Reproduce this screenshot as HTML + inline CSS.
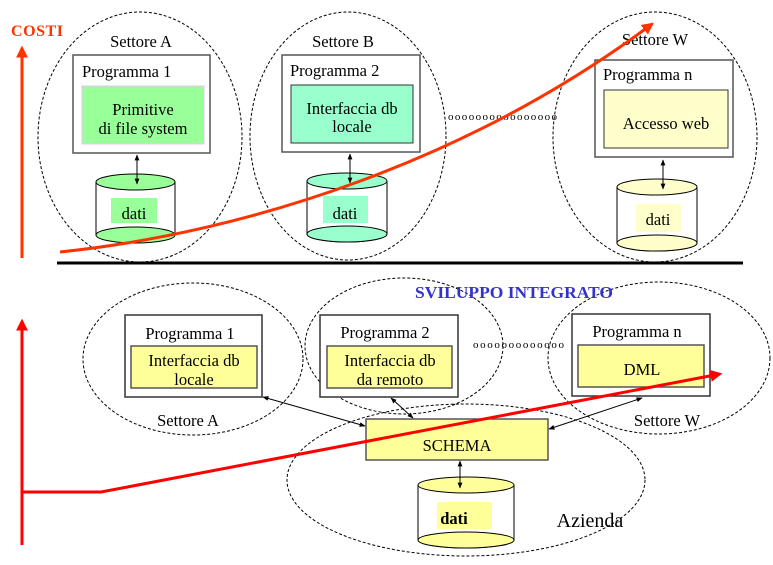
<!DOCTYPE html>
<html><head><meta charset="utf-8"><style>
body{margin:0;background:#fff}
svg{display:block}
text{font-family:"Liberation Serif",serif;font-size:16.5px;fill:#000}
</style></head><body>
<svg width="773" height="565" viewBox="0 0 773 565" xmlns="http://www.w3.org/2000/svg">
<defs>
<marker id="ah" viewBox="0 0 10 10" refX="9" refY="5" markerWidth="6" markerHeight="6" orient="auto-start-reverse"><path d="M0,1 L10,5 L0,9 z" fill="#000"/></marker>
<marker id="rh" viewBox="0 0 10 10" refX="8" refY="5" markerWidth="4" markerHeight="4" orient="auto"><path d="M0,0 L10,5 L0,10 z" fill="#ff3300"/></marker>
<marker id="rh2" viewBox="0 0 10 10" refX="8" refY="5" markerWidth="4" markerHeight="4" orient="auto"><path d="M0,0 L10,5 L0,10 z" fill="#ff0000"/></marker>
</defs>
<g fill="none" stroke="#000" stroke-width="1" stroke-dasharray="3,2">
<ellipse cx="140" cy="137" rx="102" ry="125"/>
<ellipse cx="348" cy="136" rx="98" ry="124"/>
<ellipse cx="655" cy="137" rx="102" ry="125"/>
<ellipse cx="193" cy="359" rx="110" ry="76"/>
<ellipse cx="404" cy="346" rx="99" ry="68"/>
<ellipse cx="659" cy="358" rx="111" ry="76"/>
<ellipse cx="466" cy="480" rx="179" ry="76"/>
</g>
<!-- top -->
<text x="11" y="36" textLength="52" style="font-weight:bold;fill:#ff3300;font-size:16px">COSTI</text>
<line x1="22" y1="258" x2="22" y2="48" stroke="#ff3300" stroke-width="3" marker-end="url(#rh)"/>
<text x="141" y="47" text-anchor="middle">Settore A</text>
<rect x="73" y="55" width="137" height="98" fill="#fff" stroke="#555" stroke-width="1.5"/>
<text x="82" y="77">Programma 1</text>
<rect x="82" y="86" width="122" height="58" fill="#99ff99" stroke="#f0c0f0"/>
<text x="143" y="115" text-anchor="middle">Primitive</text>
<text x="143" y="134" text-anchor="middle">di file system</text>
<path d="M96,182 V235 A40,8 0 0 0 175,235 V182" fill="#fff" stroke="#000"/>
<ellipse cx="135.5" cy="235" rx="39.5" ry="8" fill="#99ff99" stroke="#000"/>
<ellipse cx="135.5" cy="182" rx="39.5" ry="8" fill="#99ff99" stroke="#000"/>
<rect x="111" y="198" width="46" height="25" fill="#99ff99"/>
<text x="134" y="219" text-anchor="middle">dati</text>
<line x1="137" y1="155" x2="137" y2="184" stroke="#000" marker-start="url(#ah)" marker-end="url(#ah)"/>

<text x="343" y="47" text-anchor="middle">Settore B</text>
<rect x="282" y="55" width="138" height="97" fill="#fff" stroke="#555" stroke-width="1.5"/>
<text x="290" y="76">Programma 2</text>
<rect x="291" y="85" width="122" height="58" fill="#99ffcc" stroke="#333"/>
<text x="352" y="114" text-anchor="middle">Interfaccia db</text>
<text x="352" y="132" text-anchor="middle">locale</text>
<path d="M307,181 V234 A40,8 0 0 0 387,234 V181" fill="#fff" stroke="#000"/>
<ellipse cx="347" cy="234" rx="40" ry="8" fill="#99ffcc" stroke="#000"/>
<ellipse cx="347" cy="181" rx="40" ry="8" fill="#99ffcc" stroke="#000"/>
<rect x="323" y="196" width="45" height="27" fill="#99ffcc"/>
<text x="345" y="219" text-anchor="middle">dati</text>
<line x1="350" y1="154" x2="350" y2="183" stroke="#000" marker-start="url(#ah)" marker-end="url(#ah)"/>

<text x="448" y="120" textLength="109" lengthAdjust="spacing" style="font-size:11px">oooooooooooooooo</text>

<text x="655" y="45" text-anchor="middle">Settore W</text>
<rect x="595" y="60" width="138" height="97" fill="#fff" stroke="#555" stroke-width="1.5"/>
<text x="603" y="80">Programma n</text>
<rect x="604" y="90" width="124" height="58" fill="#ffffcc" stroke="#333"/>
<text x="666" y="129" text-anchor="middle">Accesso web</text>
<path d="M617,187 V243 A40,8 0 0 0 697,243 V187" fill="#fff" stroke="#000"/>
<ellipse cx="657" cy="243" rx="40" ry="8" fill="#ffffcc" stroke="#000"/>
<ellipse cx="657" cy="187" rx="40" ry="8" fill="#ffffcc" stroke="#000"/>
<rect x="636" y="204" width="45" height="28" fill="#ffffcc"/>
<text x="658" y="225" text-anchor="middle">dati</text>
<line x1="663" y1="160" x2="663" y2="189" stroke="#000" marker-start="url(#ah)" marker-end="url(#ah)"/>

<line x1="57" y1="263" x2="743" y2="263" stroke="#000" stroke-width="3"/>
<path d="M60,252 C250,232 470,160 652,24" fill="none" stroke="#ff3300" stroke-width="3" marker-end="url(#rh)"/>

<!-- bottom -->
<text x="415" y="298" textLength="198" lengthAdjust="spacingAndGlyphs" style="font-weight:bold;fill:#3333cc;font-size:17px">SVILUPPO INTEGRATO</text>
<line x1="22" y1="545" x2="22" y2="321" stroke="#ff0000" stroke-width="3" marker-end="url(#rh2)"/>

<rect x="125" y="315" width="137" height="82" fill="#fff" stroke="#333" stroke-width="1.5"/>
<text x="190" y="339" text-anchor="middle">Programma 1</text>
<rect x="131" y="346" width="126" height="42" fill="#ffff99" stroke="#555" stroke-width="1.5"/>
<text x="194" y="366" text-anchor="middle">Interfaccia db</text>
<text x="194" y="385" text-anchor="middle">locale</text>
<text x="188" y="426" text-anchor="middle">Settore A</text>

<rect x="320" y="315" width="138" height="82" fill="#fff" stroke="#333" stroke-width="1.5"/>
<text x="385" y="338" text-anchor="middle">Programma 2</text>
<rect x="327" y="346" width="125" height="42" fill="#ffff99" stroke="#555" stroke-width="1.5"/>
<text x="390" y="366" text-anchor="middle">Interfaccia db</text>
<text x="390" y="385" text-anchor="middle">da remoto</text>

<text x="473" y="348" textLength="91" lengthAdjust="spacing" style="font-size:11px">ooooooooooooo</text>

<rect x="572" y="314" width="138" height="82" fill="#fff" stroke="#333" stroke-width="1.5"/>
<text x="637" y="337" text-anchor="middle">Programma n</text>
<rect x="578" y="345" width="126" height="42" fill="#ffff99" stroke="#555" stroke-width="1.5"/>
<text x="642" y="375" text-anchor="middle">DML</text>
<text x="667" y="426" text-anchor="middle">Settore W</text>

<rect x="366" y="419" width="182" height="41" fill="#ffff99" stroke="#555" stroke-width="1.5"/>
<text x="457" y="451" text-anchor="middle">SCHEMA</text>

<path d="M418,485 V540 A48,8 0 0 0 514,540 V485" fill="#fff" stroke="#000"/>
<ellipse cx="466" cy="540" rx="48" ry="8" fill="#ffff99" stroke="#000"/>
<ellipse cx="466" cy="485" rx="48" ry="8" fill="#ffff99" stroke="#000"/>
<rect x="437" y="502" width="55" height="27" fill="#ffff99"/>
<text x="454" y="524" text-anchor="middle" style="font-weight:bold">dati</text>
<text x="590" y="527" text-anchor="middle" style="font-size:20px">Azienda</text>

<g stroke="#000" fill="none" marker-start="url(#ah)" marker-end="url(#ah)">
<line x1="263" y1="397" x2="365" y2="426"/>
<line x1="391" y1="398" x2="413" y2="418"/>
<line x1="642" y1="398" x2="549" y2="429"/>
<line x1="460" y1="461" x2="460" y2="488"/>
</g>

<path d="M22,492 H101 L720,374" fill="none" stroke="#ff0000" stroke-width="3" marker-end="url(#rh2)"/>
</svg>
</body></html>
